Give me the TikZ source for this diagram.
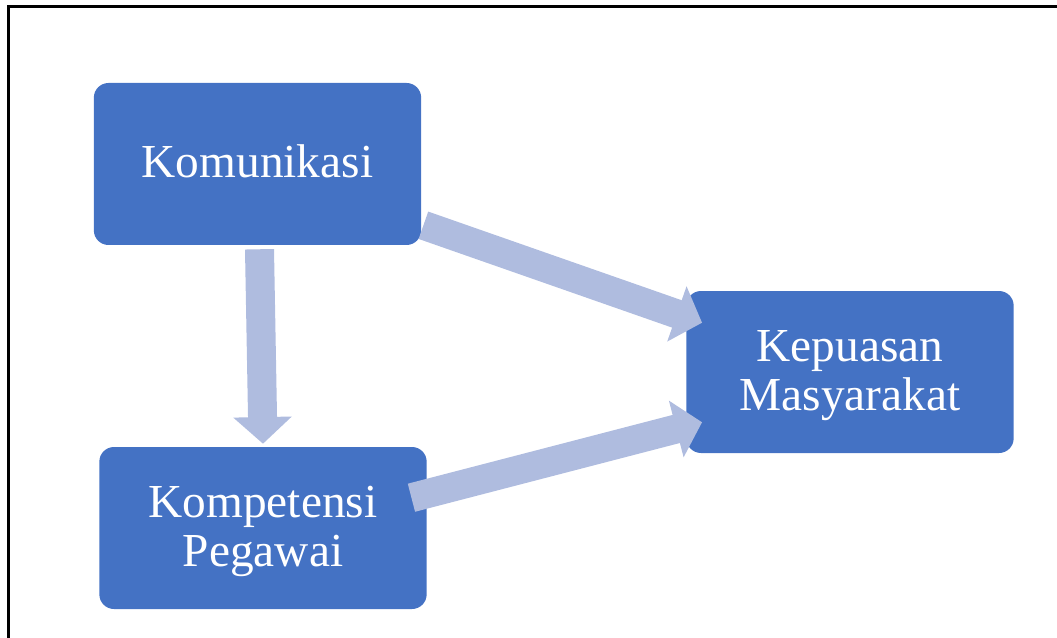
\documentclass[tikz,border=0pt]{standalone}
\usepackage{fontspec}
\setmainfont{Liberation Serif}
\usetikzlibrary{arrows.meta,calc}
\definecolor{boxfill}{HTML}{4472C4}
\definecolor{arrowfill}{HTML}{AFBCDF}
\newcommand{\bigfont}{\fontsize{35.5}{36.8}\selectfont}
\tikzset{
 every node/.append style={font=\bigfont,text=white,align=center},
 box/.style={fill=boxfill,rounded corners=11pt,minimum width=245.5pt,minimum height=121.5pt,inner sep=0pt},
 oneline/.style={box,text depth=4.5pt},
 twoline/.style={box,text depth=2.6pt},
 flow/.style={draw=arrowfill,line width=21.75pt,-{Triangle[length=20pt,width=42.75pt]}},
 frame/.style={draw=black,line width=2.25pt},
}

\begin{document}
\begin{tikzpicture}[x=0.75pt,y=-0.75pt]
\useasboundingbox (0,0) rectangle (1057,638);
\draw[frame] (8,7) rectangle (1090,670);

\node[oneline] (kom) at (257.5,164) {Komunikasi};
\node[twoline] (komp) at (263,528) {Kompetensi\\Pegawai};
\node[twoline] (kep) at (850,372) {Kepuasan\\Masyarakat};

\draw[flow] ($(kom.south)+(2,4)$) -- ($(komp.north)+(0,-3)$);
\draw[flow] ($(kom.south east)+(2,-20)$) -- ($(kep.north west)+(16,32)$);
\draw[flow] ($(komp.north east)+(-15.5,51)$) -- ($(kep.south west)+(16,-31)$);

\end{tikzpicture}
\end{document}
